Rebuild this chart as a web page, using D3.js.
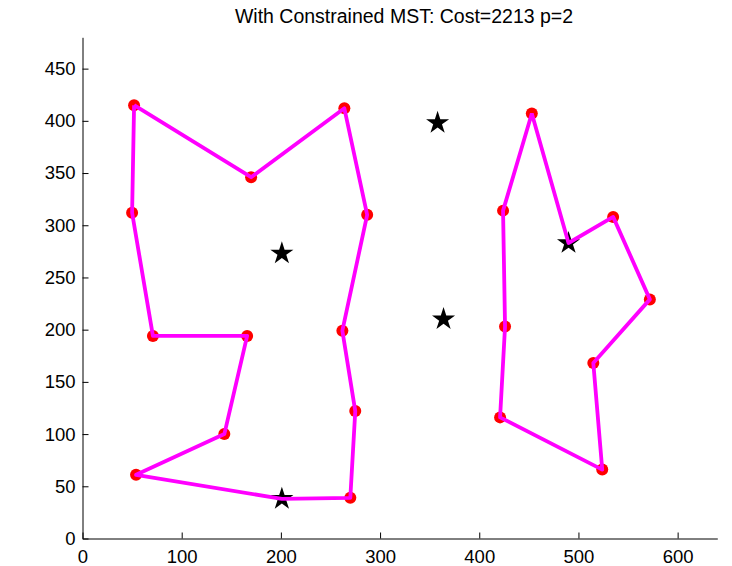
<!DOCTYPE html>
<html>
<head>
<meta charset="utf-8">
<script src="https://cdn.jsdelivr.net/npm/d3@7"></script>
<style>
  body { margin: 0; background: #fff; }
  text { font-family: "Liberation Sans", Arial, sans-serif; }
</style>
</head>
<body>
<div id="chart"></div>
<script>
// tick labels
var xTicks = [0, 100, 200, 300, 400, 500, 600];
var yTicks = [0, 50, 100, 150, 200, 250, 300, 350, 400, 450];

// red sites
var siteX = [52, 170, 264, 287, 262, 275, 270, 54, 143, 166, 71, 50,
             453, 424, 426, 421, 524, 515, 572, 535];
var siteY = [415, 346, 412, 310, 199, 122, 39, 61, 100, 194, 194, 312,
             407, 314, 203, 116, 66, 168, 229, 308];

// black star centres
var starX = [358, 201, 364, 490, 201];
var starY = [398, 273, 210, 283, 38];

// the two tours (magenta)
var leftTourX = [52, 170, 264, 287, 262, 275, 270, 201, 54, 143, 166, 71, 50, 52];
var leftTourY = [415, 346, 412, 310, 199, 122, 39, 38, 61, 100, 194, 194, 312, 415];
var rightTourX = [453, 490, 535, 572, 515, 524, 421, 426, 424, 453];
var rightTourY = [407, 283, 308, 229, 168, 66, 116, 203, 314, 407];

var width = 732, height = 566;

var svg = d3.select("#chart")
    .append("svg")
    .attr("width", width)
    .attr("height", height);

var x = d3.scaleLinear().domain([0, 640]).range([82.5, 717.3]);
var y = d3.scaleLinear().domain([0, 480]).range([538.5, 37.3]);

// title
svg.append("text")
    .attr("x", 404)
    .attr("y", 23)
    .attr("text-anchor", "middle")
    .style("font-size", "19.5px")
    .text("With Constrained MST: Cost=2213 p=2");

// red dots
svg.append("g")
    .selectAll("circle")
    .data(d3.range(siteX.length))
    .enter().append("circle")
    .attr("cx", (i) => x(siteX[i]))
    .attr("cy", (i) => y(siteY[i]))
    .attr("r", 6)
    .style("fill", "#ff0000");

// stars
var star = d3.symbol().type(d3.symbolStar).size(165);
svg.append("g")
    .selectAll("path")
    .data(d3.range(starX.length))
    .enter().append("path")
    .attr("d", star)
    .attr("transform", (i) => "translate(" + x(starX[i]) + "," + y(starY[i]) + ")")
    .style("fill", "#000");

// tours
var line = d3.line()
    .x((d) => x(d[0]))
    .y((d) => y(d[1]));

[[leftTourX, leftTourY], [rightTourX, rightTourY]].forEach((t) => {
    svg.append("path")
        .datum(t[0].map((v, i) => [v, t[1][i]]))
        .attr("d", line)
        .style("fill", "none")
        .style("stroke", "#ff00ff")
        .style("stroke-width", 3.8)
        .style("stroke-linejoin", "round");
});

// axes
var xAxis = svg.append("g")
    .attr("transform", "translate(0," + y(0) + ")")
    .call(d3.axisBottom(x).tickValues(xTicks).tickSizeInner(-6).tickSizeOuter(0).tickPadding(11.5));

var yAxis = svg.append("g")
    .attr("transform", "translate(" + x(0) + ",0)")
    .call(d3.axisLeft(y).tickValues(yTicks).tickSizeInner(-6).tickSizeOuter(0).tickPadding(7));

[xAxis, yAxis].forEach((a) => {
    a.selectAll("path, line").style("stroke", "#000").style("stroke-width", 1);
    a.selectAll("text")
        .style("font-size", "18.5px")
        .style("font-family", "'Liberation Sans', Arial, sans-serif")
        .style("fill", "#000");
});
</script>
</body>
</html>
